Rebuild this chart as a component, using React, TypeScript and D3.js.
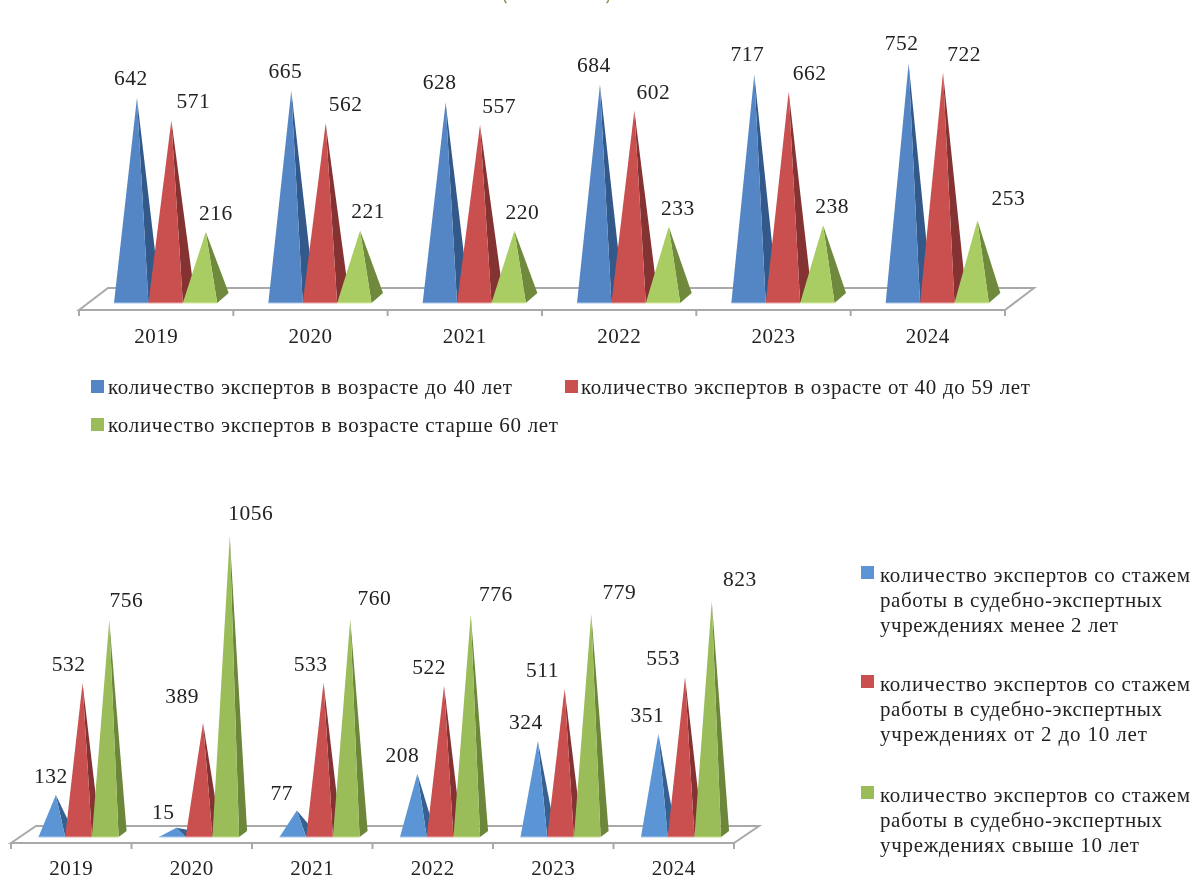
import React from "react";
import * as d3 from "d3";

const years = ["2019", "2020", "2021", "2022", "2023", "2024"];

const ageUnder40 = [642, 665, 628, 684, 717, 752];
const age40to59 = [571, 562, 557, 602, 662, 722];
const ageOver60 = [216, 221, 220, 233, 238, 253];

const expUnder2 = [132, 15, 77, 208, 324, 351];
const exp2to10 = [532, 389, 533, 522, 511, 553];
const expOver10 = [756, 1056, 760, 776, 779, 823];

const ageNames = [
  "количество экспертов в возрасте до 40 лет",
  "количество экспертов в озрасте от 40 до 59 лет",
  "количество экспертов в возрасте старше 60 лет",
];
const expNames = [
  ["количество экспертов со стажем", "работы в судебно-экспертных", "учреждениях менее 2 лет"],
  ["количество экспертов со стажем", "работы в судебно-экспертных", "учреждениях от 2  до 10 лет"],
  ["количество экспертов со стажем", "работы в судебно-экспертных", "учреждениях свыше 10 лет"],
];

const ageLabelDx = [
  [-6, -6, -6, -6, -7, -7],
  [22, 20, 19, 19, 21, 21],
  [10, 8, 8, 9, 9, 31],
];
const ageLabelDy = [
  [-13, -13, -13, -13, -13, -13],
  [-12, -12, -12, -12, -12, -12],
  [-12, -12, -12, -12, -12, -15],
];
const expLabelDx = [
  [-5, -13, -15, -15, -12, -11],
  [-14, -21, -13, -15, -22, -22],
  [17, 21, 24, 25, 28, 28],
];
const expLabelDy = [
  [-12, -9, -10, -12, -12, -12],
  [-12, -20, -12, -12, -12, -12],
  [-13, -16, -14, -14, -15, -16],
];

const FONT = "'Liberation Serif', serif";
const INK = "#222222";
const FLOOR = "#a9a9a9";

type Tone = { front: string; side: string; edge: string };
const ageTones: Tone[] = [
  { front: "#5485c4", side: "#32598a", edge: "#a9c8ee" },
  { front: "#c9504f", side: "#843232", edge: "#e8a8a6" },
  { front: "#a9cd63", side: "#6f8a3c", edge: "#d5ea9f" },
];
const expTones: Tone[] = [
  { front: "#5b95d6", side: "#35608f", edge: "#a9c8ee" },
  { front: "#c9504f", side: "#843232", edge: "#e8a8a6" },
  { front: "#9bbd59", side: "#6c873a", edge: "#c5dc8d" },
];

type ChartProps = {
  series: number[][];
  tones: Tone[];
  dx: number[][];
  dy: number[][];
  x0: number;
  x1: number;
  floorBack: number;
  floorFront: number;
  baseY: number;
  zeroY: number;
  pxPerUnit: number;
  barW: number;
  barOffset: number;
  depthX: number;
  depthY: number;
  backShift: number;
  tickLen: number;
  yearY: number;
  valueSize: number;
  yearSize: number;
  spacing: number;
};

function Chart(p: ChartProps) {
  const x = d3.scaleBand<string>().domain(years).range([p.x0, p.x1]);
  const y = d3.scaleLinear().domain([0, 1]).range([p.zeroY, p.zeroY - p.pxPerUnit]);
  const path = d3.line<[number, number]>();
  const floor: [number, number][] = [
    [p.x0, p.floorFront],
    [p.x0 + p.backShift, p.floorBack],
    [p.x1 + p.backShift, p.floorBack],
    [p.x1, p.floorFront],
  ];
  const ticks = [...years.map((d) => x(d) as number), p.x1];
  return (
    <g>
      <path d={path(floor) + "Z"} fill="#ffffff" stroke={FLOOR} strokeWidth={2} />
      {ticks.map((t) => (
        <line key={t} x1={t} x2={t} y1={p.floorFront} y2={p.floorFront + p.tickLen} stroke={FLOOR} strokeWidth={2} />
      ))}
      {years.map((yr, i) => {
        const left = (x(yr) as number) + p.barOffset;
        return (
          <g key={yr}>
            {p.series.map((vals, s) => {
              const a = left + s * p.barW;
              const b = a + p.barW;
              const apex: [number, number] = [(a + b + p.depthX) / 2, y(vals[i])];
              return (
                <g key={s}>
                  <path
                    d={path([apex, [b, p.baseY], [b + p.depthX, p.baseY - p.depthY]]) + "Z"}
                    fill={p.tones[s].side}
                  />
                  <path d={path([apex, [a, p.baseY], [b, p.baseY]]) + "Z"} fill={p.tones[s].front} />
                  <line x1={a} x2={b} y1={p.baseY} y2={p.baseY} stroke={p.tones[s].edge} strokeWidth={1} />
                </g>
              );
            })}
          </g>
        );
      })}
      {years.map((yr, i) => {
        const left = (x(yr) as number) + p.barOffset;
        return (
          <g key={yr}>
            {p.series.map((vals, s) => (
              <text
                key={s}
                x={left + s * p.barW + (p.barW + p.depthX) / 2 + p.dx[s][i]}
                y={y(vals[i]) + p.dy[s][i]}
                textAnchor="middle"
                fontFamily={FONT}
                fontSize={p.valueSize}
                letterSpacing={p.spacing}
                fill={INK}
              >
                {vals[i]}
              </text>
            ))}
            <text
              x={(x(yr) as number) + x.bandwidth() / 2}
              y={p.yearY}
              textAnchor="middle"
              fontFamily={FONT}
              fontSize={p.yearSize}
              letterSpacing={p.spacing}
              fill={INK}
            >
              {yr}
            </text>
          </g>
        );
      })}
    </g>
  );
}

function LegendLine(props: { x: number; y: number; w: number; children: string }) {
  return (
    <text
      x={props.x}
      y={props.y}
      textLength={props.w}
      lengthAdjust="spacing"
      fontFamily={FONT}
      fontSize={21}
      fill={INK}
    >
      {props.children}
    </text>
  );
}

export default function App() {
  return (
    <svg
      width={1195}
      height={879}
      viewBox="0 0 1195 879"
      style={{ position: "absolute", left: 0, top: 0, background: "#ffffff", filter: "blur(0.35px)" }}
    >
      <path d="M504.5,0 Q505,2 506.5,3" fill="none" stroke="#76923c" strokeWidth={1.4} />
      <path d="M608.5,0 Q608,2 606.5,3" fill="none" stroke="#76923c" strokeWidth={1.4} />
      <Chart
        series={[ageUnder40, age40to59, ageOver60]}
        tones={ageTones}
        dx={ageLabelDx}
        dy={ageLabelDy}
        x0={79}
        x1={1005}
        floorBack={288}
        floorFront={310}
        baseY={303}
        zeroY={300}
        pxPerUnit={0.3146}
        barW={34.4}
        barOffset={35}
        depthX={11.5}
        depthY={10}
        backShift={29}
        tickLen={6}
        yearY={343}
        valueSize={21.5}
        yearSize={21}
        spacing={0.5}
      />
      <Chart
        series={[expUnder2, exp2to10, expOver10]}
        tones={expTones}
        dx={expLabelDx}
        dy={expLabelDy}
        x0={11}
        x1={734}
        floorBack={826}
        floorFront={843}
        baseY={837}
        zeroY={832}
        pxPerUnit={0.28}
        barW={26.7}
        barOffset={27.5}
        depthX={8}
        depthY={6}
        backShift={25}
        tickLen={6}
        yearY={875}
        valueSize={21.5}
        yearSize={21}
        spacing={0.5}
      />

      <rect x={91} y={380} width={13} height={13} fill={ageTones[0].front} />
      <LegendLine x={108} y={394} w={404}>{ageNames[0]}</LegendLine>
      <rect x={565} y={380} width={13} height={13} fill={ageTones[1].front} />
      <LegendLine x={581} y={394} w={449}>{ageNames[1]}</LegendLine>
      <rect x={91} y={418} width={13} height={13} fill={expTones[2].front} />
      <LegendLine x={108} y={432} w={450}>{ageNames[2]}</LegendLine>

      {expNames.map((lines, s) => {
        const top = [582, 691, 802][s];
        const widths = [
          [310, 282, 238],
          [310, 282, 267],
          [310, 282, 259],
        ][s];
        return (
          <g key={s}>
            <rect x={861} y={top - 16} width={13} height={13} fill={expTones[s].front} />
            {lines.map((l, i) => (
              <LegendLine key={i} x={880} y={top + i * 25} w={widths[i]}>{l}</LegendLine>
            ))}
          </g>
        );
      })}
    </svg>
  );
}
